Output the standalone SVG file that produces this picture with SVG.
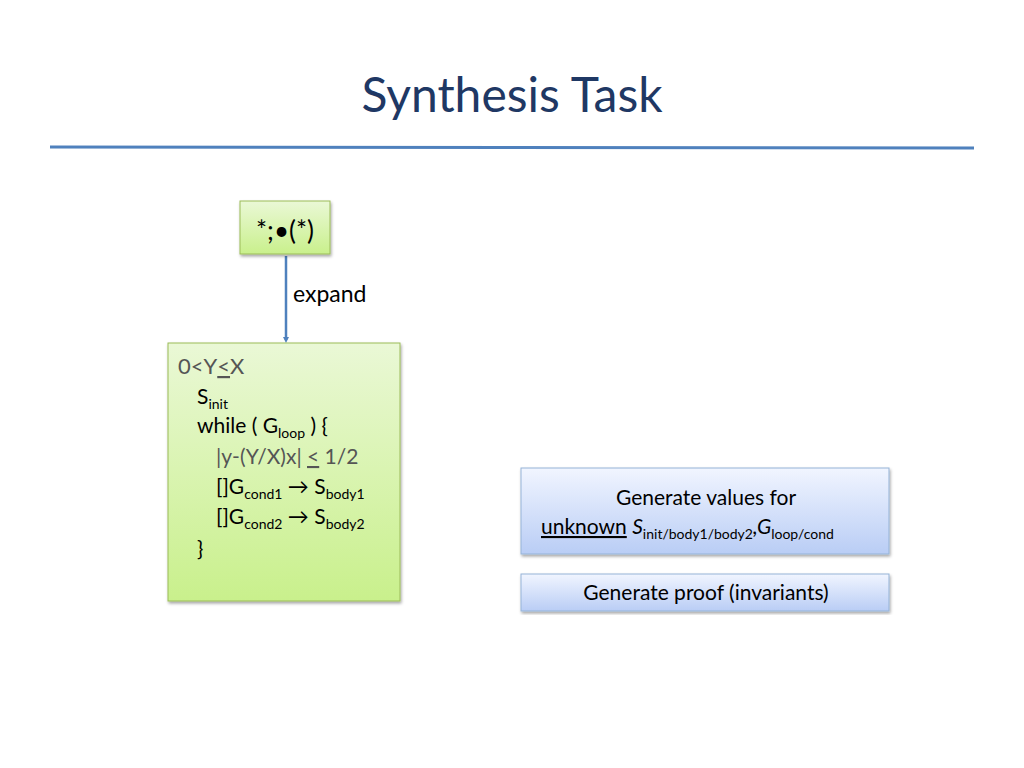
<svg xmlns="http://www.w3.org/2000/svg" width="1024" height="768" viewBox="0 0 1024 768">
<defs>
<linearGradient id="gg" x1="0" y1="0" x2="0" y2="1"><stop offset="0" stop-color="#eaf8d6"/><stop offset="1" stop-color="#c9f08c"/></linearGradient>
<linearGradient id="bg" x1="0" y1="0" x2="0" y2="1"><stop offset="0" stop-color="#f1f5ff"/><stop offset="1" stop-color="#b9cdf5"/></linearGradient>
<filter id="sh"><feDropShadow dx="1" dy="2" stdDeviation="1.5" flood-opacity="0.35"/></filter>
<marker id="ar" markerWidth="6" markerHeight="6" refX="3" refY="3" orient="auto" markerUnits="userSpaceOnUse"><path d="M0,0 L6,3 L0,6 Z" fill="#4f81bd"/></marker>
<style>
.c{font-family:"Comic Sans MS","Lato","DejaVu Sans",sans-serif;fill:#000}
.k{font-family:"Lato","Open Sans",sans-serif;font-size:21px;fill:#000}
.s{font-family:"Lato","Open Sans",sans-serif;font-size:14px}
.g{fill:#555}
</style>
</defs>
<rect width="1024" height="768" fill="#fff"/>
<text x="512" y="112" text-anchor="middle" class="c" font-size="48" style="fill:#1f3864">Synthesis Task</text>
<line x1="50" y1="147" x2="974" y2="148" stroke="#4f81bd" stroke-width="3"/>
<g id="connectors"><line x1="286" y1="256" x2="286" y2="340" stroke="#4f81bd" stroke-width="2.5" marker-end="url(#ar)"/>
<text x="293" y="302" class="c" font-size="23">expand</text></g>
<g id="n1"><rect x="240" y="201" width="90" height="53" fill="url(#gg)" stroke="#9bbb59" filter="url(#sh)"/>
<text x="285" y="240" text-anchor="middle" class="c" font-size="26">*;•(*)</text></g>
<g id="n2"><rect x="168" y="343" width="232" height="258" fill="url(#gg)" stroke="#9bbb59" filter="url(#sh)"/>
<text x="178" y="374" class="k g" style="font-size:22px">0&lt;Y<tspan text-decoration="underline">&lt;</tspan>X</text>
<text x="197" y="404" class="k">S<tspan class="s" dy="5">init</tspan></text>
<text x="197" y="433" class="k">while ( G<tspan class="s" dy="5">loop</tspan><tspan dy="-5"> ) {</tspan></text>
<text x="216" y="464" class="k g">|y-(Y/X)x| <tspan text-decoration="underline">&lt;</tspan> 1/2</text>
<text x="216" y="494" class="k">[]G<tspan class="s" dy="5">cond1</tspan><tspan dy="-5"> → S</tspan><tspan class="s" dy="5">body1</tspan></text>
<text x="216" y="524" class="k">[]G<tspan class="s" dy="5">cond2</tspan><tspan dy="-5"> → S</tspan><tspan class="s" dy="5">body2</tspan></text>
<text x="197" y="556" class="k">}</text></g>
<g id="n3"><rect x="521" y="468" width="368" height="86" fill="url(#bg)" stroke="#95b3d7" filter="url(#sh)"/>
<text x="706" y="505" text-anchor="middle" class="c" font-size="21">Generate values for</text>
<text x="541" y="534" class="c" font-size="21"><tspan text-decoration="underline">unknown</tspan> <tspan font-style="italic">S</tspan><tspan class="s" dy="5">init/body1/body2</tspan><tspan dy="-5" font-style="italic">,G</tspan><tspan class="s" dy="5">loop/cond</tspan></text></g>
<g id="n4"><rect x="521" y="574" width="368" height="37" fill="url(#bg)" stroke="#95b3d7" filter="url(#sh)"/>
<text x="706" y="600" text-anchor="middle" class="c" font-size="21">Generate proof (invariants)</text></g>
</svg>
